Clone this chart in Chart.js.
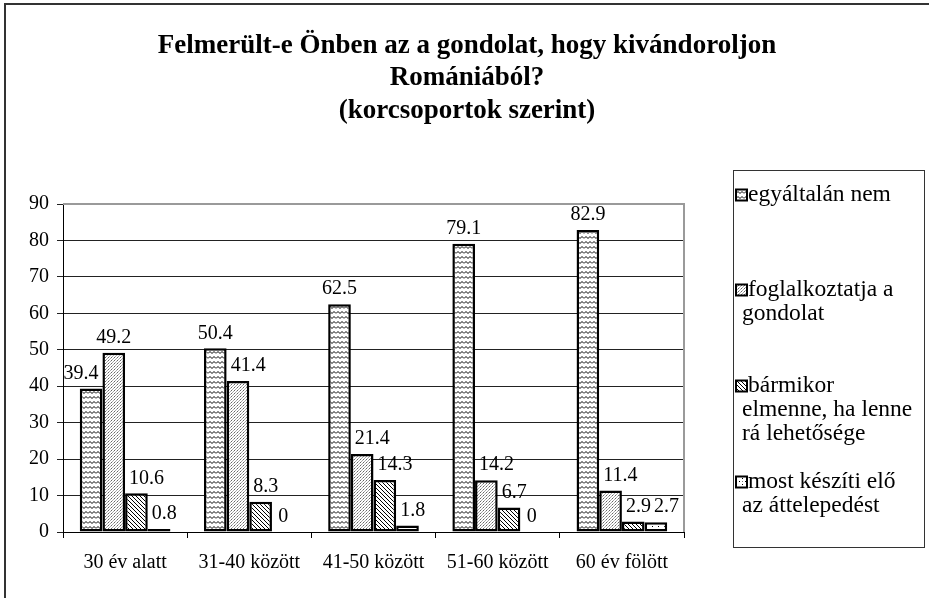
<!DOCTYPE html>
<html>
<head>
<meta charset="utf-8">
<script src="https://cdn.jsdelivr.net/npm/chart.js@4"></script>
<style>
  html, body { margin: 0; padding: 0; background: #fff; }
  #wrap { width: 929px; height: 598px; position: relative; }
</style>
</head>
<body>
<div id="wrap"><canvas id="chart" width="929" height="598"></canvas></div>
<script>
const categories = ['30 év alatt', '31-40 között', '41-50 között', '51-60 között', '60 év fölött']
const seriesNames = [
  ['egyáltalán nem'],
  ['foglalkoztatja a', 'gondolat'],
  ['bármikor', 'elmenne, ha lenne', 'rá lehetősége'],
  ['most készíti elő', 'az áttelepedést'],
]
const notAtAll = [39.4, 50.4, 62.5, 79.1, 82.9]
const thinking = [49.2, 41.4, 21.4, 14.2, 11.4]
const anytime = [10.6, 8.3, 14.3, 6.7, 2.9]
const preparing = [0.8, 0, 1.8, 0, 2.7]
const yTicks = [0, 10, 20, 30, 40, 50, 60, 70, 80, 90]
const titleLines = ['Felmerült-e Önben az a gondolat, hogy kivándoroljon', 'Romániából?', '(korcsoportok szerint)']

const FONT = '"Liberation Serif", "Times New Roman", serif'

function tile(w, h, draw) {
  const c = document.createElement('canvas')
  c.width = w
  c.height = h
  const g = c.getContext('2d')
  g.fillStyle = '#fff'
  g.fillRect(0, 0, w, h)
  draw(g)
  return document.getElementById('chart').getContext('2d').createPattern(c, 'repeat')
}

// zigzag waves
const wavy = tile(8, 5, (g) => {
  g.strokeStyle = '#000'
  g.lineWidth = 1
  g.beginPath()
  g.moveTo(0, 3.5)
  g.lineTo(2, 1.5)
  g.lineTo(4, 3.5)
  g.lineTo(6, 1.5)
  g.lineTo(8, 3.5)
  g.stroke()
})
// fine stipple
const stipple = tile(3, 3, (g) => {
  g.fillStyle = '#666'
  g.fillRect(0, 0, 1, 1)
  g.fillStyle = '#a8a8a8'
  g.fillRect(1, 2, 1, 1)
  g.fillRect(2, 1, 1, 1)
})
// diagonal lines going down to the right
const diag = tile(4, 4, (g) => {
  g.fillStyle = '#000'
  for (let i = 0; i < 4; i++) g.fillRect(i, i, 1, 1)
})
// sparse dots
const dots = tile(6, 6, (g) => {
  g.fillStyle = '#000'
  g.fillRect(1, 1, 1, 1)
  g.fillRect(4, 4, 1, 1)
  g.fillStyle = '#777'
  g.fillRect(4, 1, 1, 1)
})

const fills = [wavy, stipple, diag, dots]
const values = [notAtAll, thinking, anytime, preparing]

function drawValueLabels(chart) {
  const ctx = chart.ctx
  ctx.fillStyle = '#000'
  ctx.font = '20px ' + FONT
  ctx.textAlign = 'left'
  ctx.textBaseline = 'bottom'
  const n = chart.data.datasets.length
  const gap = 4
  chart.data.labels.forEach((_, j) => {
    const bars = []
    for (let i = 0; i < n; i++) bars.push(chart.getDatasetMeta(i).data[j])
    const placed = []
    bars.forEach((bar, i) => {
      const text = String(chart.data.datasets[i].data[j])
      const w = ctx.measureText(text).width
      const bottom = bar.y - 5
      const top = bottom - 18
      let left = bar.x - w / 2
      const prev = bars[i - 1]
      const next = bars[i + 1]
      // keep clear of a taller bar on the left / right
      if (prev && prev.y < bottom && left < prev.x + prev.width / 2 + gap) {
        left = prev.x + prev.width / 2 + gap
      } else if (next && next.y < bottom && left + w > next.x - next.width / 2 - gap) {
        left = next.x - next.width / 2 - gap - w
      }
      // keep clear of labels already placed
      placed.forEach((p) => {
        if (top < p.bottom && bottom > p.top && left < p.right + 3 && left + w > p.left) {
          left = p.right + 3
        }
      })
      placed.push({ left, right: left + w, top, bottom })
      ctx.fillText(text, left, bottom)
    })
  })
}

const frame = {
  id: 'frame',
  beforeDraw(chart) {
    const ctx = chart.ctx
    ctx.save()
    ctx.fillStyle = '#fff'
    ctx.fillRect(0, 0, chart.width, chart.height)
    ctx.strokeStyle = '#333'
    ctx.lineWidth = 2
    ctx.strokeRect(5, 4, chart.width + 20, chart.height + 20)
    ctx.restore()
  },
  afterDraw(chart) {
    const ctx = chart.ctx
    const a = chart.chartArea
    ctx.save()
    // title, centred on the whole picture
    ctx.fillStyle = '#000'
    ctx.textAlign = 'center'
    ctx.textBaseline = 'middle'
    ctx.font = 'bold 27px ' + FONT
    titleLines.forEach((t, i) => ctx.fillText(t, 467, 46 + i * 32.5))

    // plot area border (top/right grey)
    ctx.strokeStyle = '#9a9a9a'
    ctx.lineWidth = 2
    ctx.beginPath()
    ctx.moveTo(a.left, a.top)
    ctx.lineTo(a.right, a.top)
    ctx.lineTo(a.right, a.bottom)
    ctx.stroke()

    drawValueLabels(chart)

    // legend
    const lx = 733, ly = 170, lw = 191, lh = 377
    ctx.strokeStyle = '#333'
    ctx.lineWidth = 1
    ctx.strokeRect(lx + 0.5, ly + 0.5, lw, lh)
    ctx.textAlign = 'left'
    ctx.textBaseline = 'middle'
    ctx.font = '23.5px ' + FONT
    const itemTops = [195, 290, 386, 482]
    seriesNames.forEach((lines, i) => {
      const y = itemTops[i]
      ctx.fillStyle = fills[i]
      ctx.fillRect(lx + 3, y - 5.5, 11, 11)
      ctx.strokeStyle = '#000'
      ctx.lineWidth = 2
      ctx.strokeRect(lx + 3, y - 5.5, 11, 11)
      ctx.fillStyle = '#000'
      lines.forEach((t, k) => {
        ctx.fillText(t, k === 0 ? lx + 15 : lx + 9, y + k * 24)
      })
    })
    ctx.restore()
  },
}

new Chart(document.getElementById('chart'), {
  type: 'bar',
  data: {
    labels: categories,
    datasets: values.map((v, i) => ({
      label: seriesNames[i].join(' '),
      data: v,
      backgroundColor: fills[i],
      borderColor: '#000',
      borderWidth: 2.5,
      borderSkipped: false,
      barPercentage: 1,
      categoryPercentage: 0.73,
    })),
  },
  options: {
    responsive: false,
    animation: false,
    layout: { padding: { left: 0, right: 245, top: 204, bottom: 0 } },
    plugins: {
      legend: { display: false },
      tooltip: { enabled: false },
      title: { display: false },
    },
    scales: {
      x: {
        grid: { display: true, drawOnChartArea: false, drawTicks: true, tickLength: 6, color: '#000', offset: true },
        border: { color: '#000', width: 1 },
        ticks: { color: '#000', font: { family: FONT, size: 20 }, padding: 13 },
        afterFit: (s) => { s.height = 66 },
      },
      y: {
        min: 0,
        max: 90,
        afterBuildTicks: (s) => { s.ticks = yTicks.map((v) => ({ value: v })) },
        grid: { color: '#222', lineWidth: 1, tickLength: 6 },
        border: { color: '#000', width: 1 },
        ticks: { color: '#000', font: { family: FONT, size: 20 }, padding: 8 },
        afterFit: (s) => { s.width = 63 },
      },
    },
  },
  plugins: [frame],
})
</script>
</body>
</html>
